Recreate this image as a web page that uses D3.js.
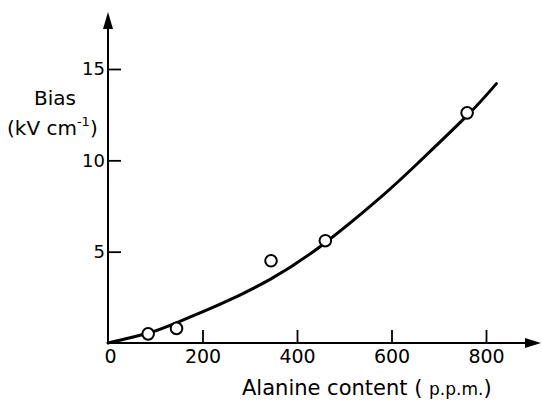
<!DOCTYPE html>
<html><head><meta charset="utf-8">
<script src="https://cdn.jsdelivr.net/npm/d3@7"></script>
<style>
body{margin:0;background:#fff;}
text{font-family:"DejaVu Sans",sans-serif;fill:#000;}
</style></head>
<body>
<svg id="c" width="542" height="400"></svg>
<script>
// Data
const pointX = [85, 145, 345, 460, 760];
const pointY = [0.5, 0.8, 4.5, 5.6, 12.6];
const curveX = [0, 86, 144, 240, 344, 450, 578, 662, 762, 822];
const curveY = [0, 0.55, 1.1, 2.15, 3.5, 5.3, 8.0, 10.0, 12.5, 14.2];
const xTicks = [0, 200, 400, 600, 800];
const yTicks = [5, 10, 15];

const svg = d3.select("#c");
const x = d3.scaleLinear().domain([0, 800]).range([108, 486]);
const y = d3.scaleLinear().domain([0, 15]).range([343, 69]);

// axis lines with arrows
svg.append("line").attr("x1", x(0)).attr("y1", y(0)).attr("x2", x(0)).attr("y2", 26)
  .attr("stroke", "#000").attr("stroke-width", 2);
svg.append("path").attr("d", `M${x(0)},12 L${x(0)-5},29 L${x(0)+5},29 Z`).attr("fill", "#000");
svg.append("line").attr("x1", x(0)-1).attr("y1", y(0)).attr("x2", 528).attr("y2", y(0))
  .attr("stroke", "#000").attr("stroke-width", 2);
svg.append("path").attr("d", `M541,${y(0)} L525,${y(0)-5} L525,${y(0)+5} Z`).attr("fill", "#000");

// x axis ticks
const gx = svg.append("g").attr("transform", `translate(0,${y(0)})`)
  .call(d3.axisBottom(x).tickValues(xTicks).tickSizeInner(-13).tickSizeOuter(0).tickPadding(7));
gx.select(".domain").remove();
gx.selectAll("line").attr("stroke", "#000").attr("stroke-width", 1.8);
gx.selectAll("text").attr("font-size", 19).attr("font-family", "DejaVu Sans").attr("fill", "#000");
gx.selectAll(".tick").filter(d => d === 0).select("line").remove();
gx.selectAll(".tick").filter(d => d === 0).select("text").attr("dx", 2);

// y axis ticks
const gy = svg.append("g").attr("transform", `translate(${x(0)},0)`)
  .call(d3.axisLeft(y).tickValues(yTicks).tickSizeInner(-13).tickSizeOuter(0).tickPadding(3));
gy.select(".domain").remove();
gy.selectAll("line").attr("stroke", "#000").attr("stroke-width", 1.8);
gy.selectAll("text").attr("font-size", 18).attr("font-family", "DejaVu Sans").attr("fill", "#000");

// curve
const curvePts = curveX.map((v, i) => [v, curveY[i]]);
svg.append("path").datum(curvePts)
  .attr("d", d3.line().x(d => x(d[0])).y(d => y(d[1])).curve(d3.curveNatural))
  .attr("fill", "none").attr("stroke", "#000").attr("stroke-width", 3).attr("stroke-linecap", "round");

// points
svg.selectAll("circle.p").data(pointX.map((v, i) => [v, pointY[i]])).enter()
  .append("circle").attr("class", "p")
  .attr("cx", d => x(d[0])).attr("cy", d => y(d[1])).attr("r", 5.8)
  .attr("fill", "#fff").attr("stroke", "#000").attr("stroke-width", 2);

// y axis title
svg.append("text").attr("x", 55).attr("y", 105).attr("text-anchor", "middle")
  .attr("font-size", 20).text("Bias");
const yt = svg.append("text").attr("x", 7).attr("y", 135).attr("font-size", 20);
yt.append("tspan").text("(kV cm");
yt.append("tspan").attr("font-size", 13).attr("dy", -9).text("-1");
yt.append("tspan").attr("dy", 9).text(")");

// x axis title
const xt = svg.append("text").attr("x", 242).attr("y", 395).attr("font-size", 21);
xt.append("tspan").text("Alanine content ");
xt.append("tspan").attr("font-size", 21).text("( ");
xt.append("tspan").attr("font-size", 17).text("p.p.m.");
xt.append("tspan").attr("font-size", 21).text(")");
</script>
</body></html>
